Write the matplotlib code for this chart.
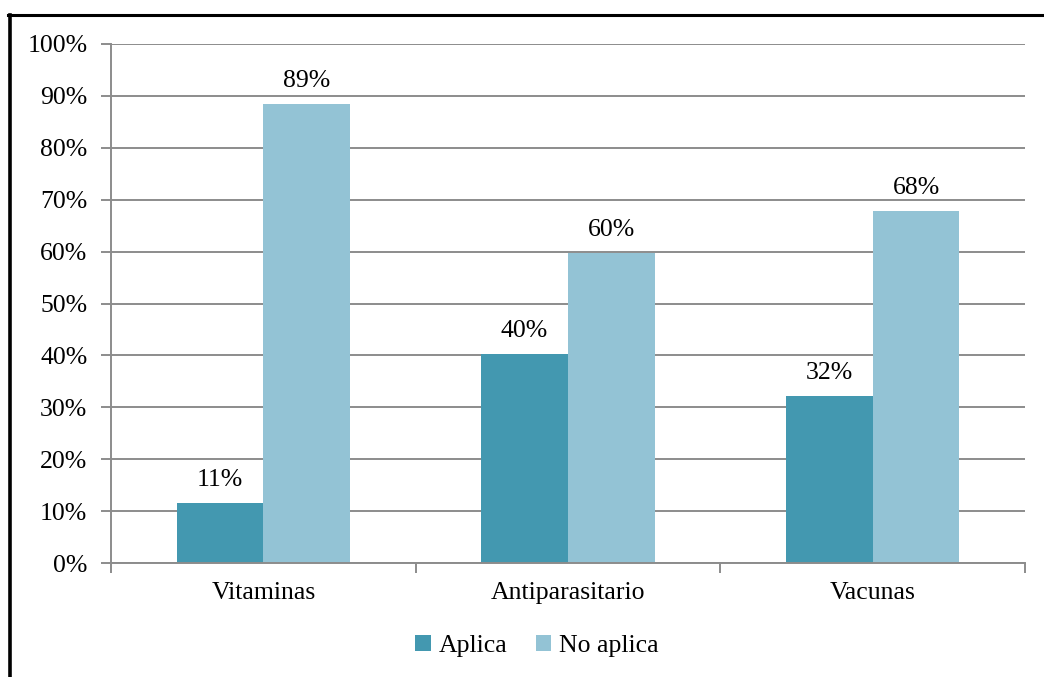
import matplotlib
matplotlib.use("Agg")
import matplotlib.pyplot as plt
from matplotlib.lines import Line2D
from matplotlib.ticker import FuncFormatter, FixedLocator

# ================= DATA =================
categories = ["Vitaminas", "Antiparasitario", "Vacunas"]
aplica = [11.5, 40.2, 32.2]
no_aplica = [88.5, 59.8, 67.8]
aplica_labels = ["11%", "40%", "32%"]
no_aplica_labels = ["89%", "60%", "68%"]
# ========================================

C_APLICA = "#4398B0"
C_NO = "#93C3D5"
GRID = "#8C8C8C"
FS = 18.5

plt.rcParams["font.family"] = ["Liberation Serif", "DejaVu Serif"]

fig = plt.figure(figsize=(10.44, 6.77), dpi=100)
ax = fig.add_axes([111 / 1044, 1 - 563 / 677, (1025 - 111) / 1044, (563 - 44) / 677])

x = list(range(len(categories)))
w = 0.285
b1 = ax.bar([i - w / 2 for i in x], aplica, width=w, color=C_APLICA, label="Aplica", zorder=3)
b2 = ax.bar([i + w / 2 for i in x], no_aplica, width=w, color=C_NO, label="No aplica", zorder=3)

for bars, labels in ((b1, aplica_labels), (b2, no_aplica_labels)):
    for rect, lab in zip(bars, labels):
        ax.text(rect.get_x() + rect.get_width() / 2, rect.get_height() + 2.3, lab,
                ha="center", va="bottom", fontsize=FS, color="black")

ax.set_xlim(-0.5, len(categories) - 0.5)
ax.set_ylim(0, 100)
ax.set_yticks(range(0, 101, 10))
ax.yaxis.set_major_formatter(FuncFormatter(lambda v, p: f"{int(v)}%"))
ax.set_xticks(x)
ax.set_xticklabels(categories)
ax.xaxis.set_minor_locator(FixedLocator([i - 0.5 for i in range(len(categories) + 1)]))

ax.grid(axis="y", color=GRID, linewidth=1.4, zorder=0)
ax.set_axisbelow(True)
ax.tick_params(axis="y", length=7, width=1.4, color=GRID, labelsize=FS, pad=10)
ax.tick_params(axis="x", which="major", length=0, labelsize=FS, pad=14)
ax.tick_params(axis="x", which="minor", length=7, width=1.4, color=GRID)

for s in ("top", "right"):
    ax.spines[s].set_visible(False)
for s in ("left", "bottom"):
    ax.spines[s].set_color(GRID)
    ax.spines[s].set_linewidth(1.4)
    ax.spines[s].set_zorder(4)

ax.legend(loc="center", bbox_to_anchor=(0.466, -0.16), ncol=2, frameon=False,
          fontsize=FS, handlelength=0.6, handleheight=0.6, handletextpad=0.3,
          columnspacing=1.1)

# black frame (left and top edges of cropped border)
fig.add_artist(Line2D([9.5 / 1044, 9.5 / 1044], [0, 1 - 15 / 677], color="black",
                      linewidth=2.6, transform=fig.transFigure))
fig.add_artist(Line2D([8 / 1044, 1], [1 - 15 / 677, 1 - 15 / 677], color="black",
                      linewidth=2.2, transform=fig.transFigure))

fig.savefig("out.png", dpi=100)
